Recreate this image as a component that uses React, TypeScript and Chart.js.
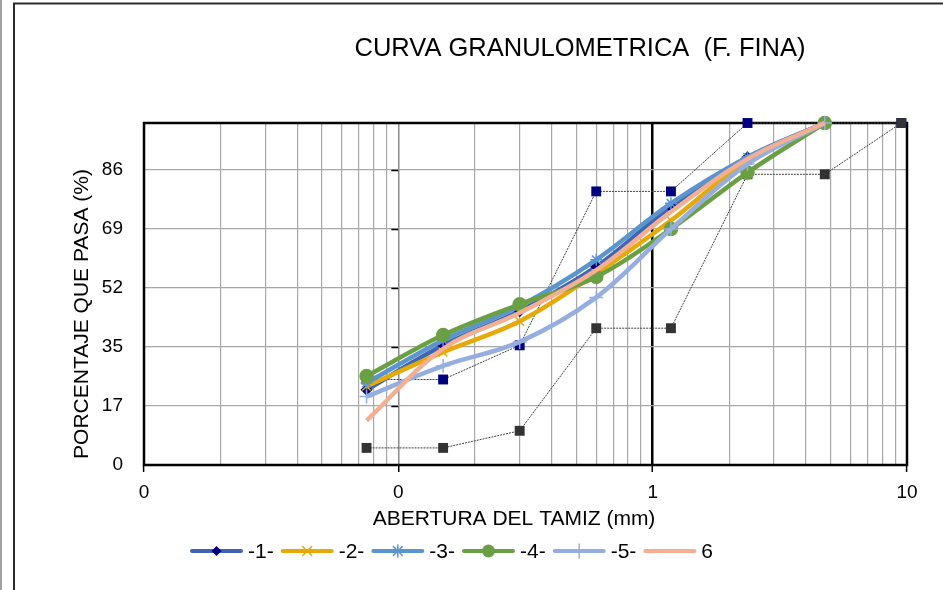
import React, { useEffect, useRef } from 'react';
import { Chart, registerables } from 'chart.js';

Chart.register(...registerables);

// ---------- data ----------
const sieveSizes = [0.075, 0.15, 0.3, 0.6, 1.18, 2.36, 4.75];
const series1 = [22, 35, 45, 58, 75.5, 90, 100];
const series2 = [23, 33, 42, 56, 71.5, 89, 100];
const series3 = [24, 36.5, 46.5, 60, 76.5, 90, 100];
const series4 = [26, 38, 47, 55, 69, 85.5, 100];
const series5 = [20, 29, 36, 49, 69, 88, 100];
const series6 = [13, 34, 44.5, 57, 74, 89.5, 100];
const seriesLabels = ['-1-', '-2-', '-3-', '-4-', '-5-', '6'];

const limitSizes = [0.075, 0.15, 0.3, 0.6, 1.18, 2.36, 4.75, 9.5];
const upperLimit = [25, 25, 35, 80, 80, 100, 100, 100];
const lowerLimit = [5, 5, 10, 40, 40, 85, 85, 100];

const yTickValues = [0, 17.25, 34.5, 51.75, 69, 86.25];
const yTickLabels = ['0', '17', '35', '52', '69', '86'];
const xMajorTicks = [0.01, 0.1, 1, 10];
const xTickLabels = ['0', '0', '1', '10'];

const titleText = 'CURVA GRANULOMETRICA  (F. FINA)';
const xTitleText = 'ABERTURA DEL TAMIZ (mm)';
const yTitleText = 'PORCENTAJE QUE PASA (%)';

// ---------- styles ----------
const FONT = '"Liberation Sans", Arial, sans-serif';
const lineColors = ['#3F65B3', '#E5AA08', '#5B95CE', '#6AA043', '#96AEDF', '#F4AE92'];
const markerColors = ['#000080', '#E5AA08', '#5B95CE', '#6AA043', '#96AEDF', '#F4AE92'];
const markerStyles: any[] = ['rectRot', 'crossRot', 'star', 'circle', 'cross', false];
const markerRadius = [5, 6, 6, 6.5, 7, 0];

const seriesData = [series1, series2, series3, series4, series5, series6];

function xGridValues(): number[] {
  const out: number[] = [];
  [0.01, 0.1, 1].forEach((d) => {
    for (let k = 1; k <= 9; k++) out.push(+(d * k).toPrecision(6));
  });
  out.push(10);
  return out;
}

function isMajor(v: number) {
  return xMajorTicks.some((m) => Math.abs(m - v) < 1e-9);
}

function drawMarker(ctx: CanvasRenderingContext2D, style: any, x: number, y: number, r: number, color: string) {
  ctx.save();
  ctx.strokeStyle = color;
  ctx.fillStyle = color;
  ctx.lineWidth = 1.5;
  ctx.beginPath();
  if (style === 'rectRot') {
    ctx.moveTo(x, y - r);
    ctx.lineTo(x + r, y);
    ctx.lineTo(x, y + r);
    ctx.lineTo(x - r, y);
    ctx.closePath();
    ctx.fill();
  } else if (style === 'circle') {
    ctx.arc(x, y, r, 0, Math.PI * 2);
    ctx.fill();
  } else if (style === 'crossRot') {
    const d = r * 0.75;
    ctx.moveTo(x - d, y - d);
    ctx.lineTo(x + d, y + d);
    ctx.moveTo(x + d, y - d);
    ctx.lineTo(x - d, y + d);
    ctx.stroke();
  } else if (style === 'star') {
    const d = r * 0.75;
    ctx.moveTo(x - d, y - d);
    ctx.lineTo(x + d, y + d);
    ctx.moveTo(x + d, y - d);
    ctx.lineTo(x - d, y + d);
    ctx.moveTo(x, y - r);
    ctx.lineTo(x, y + r);
    ctx.stroke();
  } else if (style === 'cross') {
    ctx.moveTo(x, y - r);
    ctx.lineTo(x, y + r);
    ctx.stroke();
  }
  ctx.restore();
}

const decorPlugin = {
  id: 'decor',
  beforeDraw(chart: any) {
    const ctx = chart.ctx as CanvasRenderingContext2D;
    ctx.save();
    ctx.fillStyle = '#ffffff';
    ctx.fillRect(0, 0, chart.width, chart.height);
    ctx.restore();
  },
  beforeDatasetsDraw(chart: any) {
    const ctx = chart.ctx as CanvasRenderingContext2D;
    const a = chart.chartArea;
    const xs = chart.scales.x;
    const ys = chart.scales.y;
    ctx.save();
    // y tick marks at the axis crossing (0.1)
    const xc = xs.getPixelForValue(0.1);
    ctx.strokeStyle = '#000';
    ctx.lineWidth = 1.5;
    yTickValues.forEach((v) => {
      if (v === 0) return;
      const py = Math.round(ys.getPixelForValue(v)) + 0.5;
      ctx.beginPath();
      ctx.moveTo(xc - 7, py);
      ctx.lineTo(xc, py);
      ctx.stroke();
    });
    // plot border
    ctx.strokeStyle = '#000';
    ctx.lineWidth = 2.5;
    ctx.strokeRect(a.left, a.top, a.right - a.left, a.bottom - a.top);
    ctx.restore();
  },
  afterDraw(chart: any) {
    const ctx = chart.ctx as CanvasRenderingContext2D;
    ctx.save();
    // outer frame
    ctx.strokeStyle = '#a0a0a0';
    ctx.lineWidth = 2;
    ctx.beginPath();
    ctx.moveTo(1, 0);
    ctx.lineTo(1, chart.height);
    ctx.stroke();
    ctx.strokeStyle = '#2b2b2b';
    ctx.lineWidth = 2;
    ctx.beginPath();
    ctx.moveTo(14, chart.height);
    ctx.lineTo(14, 3.5);
    ctx.lineTo(chart.width, 3.5);
    ctx.stroke();

    ctx.fillStyle = '#000';
    ctx.textAlign = 'center';
    ctx.textBaseline = 'middle';
    // title
    ctx.font = `25.5px ${FONT}`;
    ctx.fillText(titleText, 580, 49);
    // x title
    ctx.font = `21px ${FONT}`;
    ctx.fillText(xTitleText, 514, 519);
    // y title
    ctx.save();
    ctx.translate(82, 314);
    ctx.rotate(-Math.PI / 2);
    ctx.fillText(yTitleText, 0, 0);
    ctx.restore();

    // legend
    ctx.font = `21px ${FONT}`;
    ctx.textAlign = 'left';
    let x = 190;
    const y = 551;
    seriesLabels.forEach((lab, i) => {
      ctx.strokeStyle = lineColors[i];
      ctx.lineWidth = 4;
      ctx.lineCap = 'round';
      ctx.beginPath();
      ctx.moveTo(x + 2, y);
      ctx.lineTo(x + 51, y);
      ctx.stroke();
      if (markerStyles[i]) drawMarker(ctx, markerStyles[i], x + 26.5, y, markerRadius[i], markerColors[i]);
      ctx.fillStyle = '#000';
      ctx.fillText(lab, x + 58, y + 1);
      x += 53 + 5 + ctx.measureText(lab).width + 7;
    });
    ctx.restore();
  },
};

export default function App() {
  const canvasRef = useRef<HTMLCanvasElement | null>(null);

  useEffect(() => {
    if (!canvasRef.current) return;
    const curveSets = seriesData.map((vals, i) => ({
      label: seriesLabels[i],
      data: sieveSizes.map((s, j) => ({ x: s, y: vals[j] })),
      showLine: true,
      clip: false,
      borderColor: lineColors[i],
      backgroundColor: markerColors[i],
      borderWidth: 4.5,
      tension: 0.35,
      pointStyle: markerStyles[i],
      pointRadius: markerRadius[i],
      pointBorderColor: markerColors[i],
      pointBackgroundColor: markerColors[i],
      pointBorderWidth: 1.5,
      order: 7 - i,
    }));
    const limitSets = [
      { label: 'sup', vals: upperLimit, color: '#000080' },
      { label: 'inf', vals: lowerLimit, color: '#333333' },
    ].map((l, k) => ({
      label: l.label,
      data: limitSizes.map((s, j) => ({ x: s, y: l.vals[j] })),
      showLine: true,
      clip: false,
      borderColor: '#404040',
      borderWidth: 1,
      borderDash: [2, 1],
      tension: 0,
      pointStyle: 'rect',
      pointRadius: 7,
      pointBackgroundColor: l.color,
      pointBorderColor: l.color,
      pointBorderWidth: 0,
      order: 20 - k,
    }));

    const chart = new Chart(canvasRef.current, {
      type: 'scatter',
      data: { datasets: [...curveSets, ...limitSets] as any },
      options: {
        responsive: false,
        animation: false,
        devicePixelRatio: 1,
        layout: { padding: { left: 0, top: 123, right: 36, bottom: 0 } },
        plugins: {
          legend: { display: false },
          title: { display: false },
          tooltip: { enabled: false },
        },
        scales: {
          x: {
            type: 'logarithmic',
            min: 0.01,
            max: 10,
            afterFit: (s: any) => {
              s.height = 125;
            },
            afterBuildTicks: (s: any) => {
              s.ticks = xGridValues().map((v) => ({ value: v, major: isMajor(v) }));
            },
            border: { display: false },
            grid: {
              drawOnChartArea: true,
              tickLength: 7,
              color: (c: any) => {
                const v = c.tick ? c.tick.value : 0;
                if (Math.abs(v - 1) < 1e-9) return '#000000';
                if (Math.abs(v - 0.1) < 1e-9) return '#8a8a8a';
                return '#a8a8a8';
              },
              lineWidth: (c: any) => {
                const v = c.tick ? c.tick.value : 0;
                if (Math.abs(v - 1) < 1e-9) return 2.5;
                if (Math.abs(v - 0.1) < 1e-9) return 1.5;
                return 1.2;
              },
              tickColor: (c: any) => {
                const v = c.tick ? c.tick.value : 0;
                return isMajor(v) ? '#000000' : 'rgba(0,0,0,0)';
              },
              tickWidth: 1.5,
            },
            ticks: {
              autoSkip: false,
              maxRotation: 0,
              minRotation: 0,
              padding: 9,
              color: '#000',
              font: { family: FONT, size: 19 },
              callback: (value: any) => {
                const idx = xMajorTicks.findIndex((m) => Math.abs(m - Number(value)) < 1e-9);
                return idx >= 0 ? xTickLabels[idx] : '';
              },
            },
          },
          y: {
            type: 'linear',
            min: 0,
            max: 100,
            afterFit: (s: any) => {
              s.width = 144;
            },
            afterBuildTicks: (s: any) => {
              s.ticks = yTickValues.map((v) => ({ value: v }));
            },
            border: { display: false },
            grid: {
              drawTicks: false,
              color: '#a8a8a8',
              lineWidth: 1.2,
            },
            ticks: {
              padding: 21,
              color: '#000',
              font: { family: FONT, size: 19 },
              callback: (_v: any, i: number) => yTickLabels[i],
            },
          },
        },
      },
      plugins: [decorPlugin],
    });
    return () => chart.destroy();
  }, []);

  return (
    <div style={{ position: 'absolute', left: 0, top: 0, width: 943, height: 590 }}>
      <canvas ref={canvasRef} width={943} height={590} style={{ display: 'block', width: 943, height: 590 }} />
    </div>
  );
}
